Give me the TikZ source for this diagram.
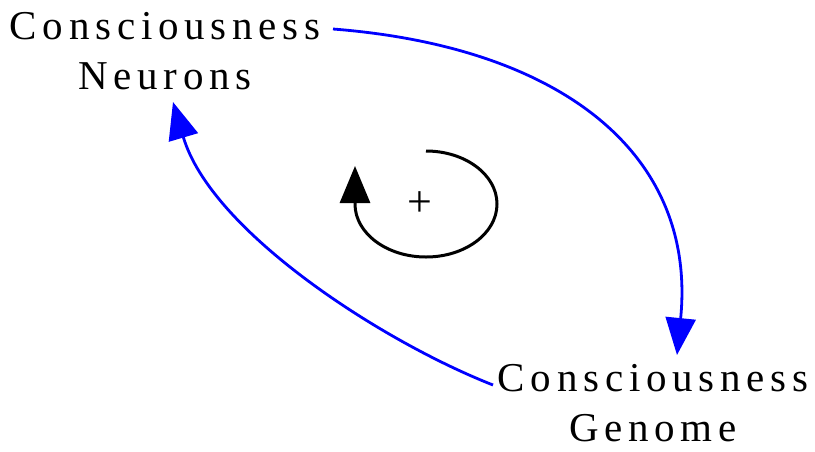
\documentclass[tikz,border=0pt]{standalone}
\usepackage{fontspec}
\setmainfont{Liberation Serif}
\newfontfamily\spacedfont[LetterSpace=14]{Liberation Serif}
\usetikzlibrary{arrows.meta}

\begin{document}
\begin{tikzpicture}[x=0.5pt,y=-0.5pt,>={Triangle[length=18.5pt,width=15pt]},
  var/.style={align=center,inner sep=0pt,font=\spacedfont\fontsize{20.5pt}{25pt}\selectfont},
  link/.style={->,blue,line width=1.4pt},
  loopline/.style={->,black,line width=1.5pt}]
\useasboundingbox (0,0) rectangle (815,451);
\node[var] (neurons) at (165,51) {Consciousness\\Neurons};
\node[var] (genome) at (653,403) {Consciousness\\Genome};
\node[font=\fontsize{22pt}{26pt}\selectfont] (plus) at (420,204) {+};
% link ends
\coordinate (neuronsout) at ([shift={(168,-22)}]neurons.center);
\coordinate (neuronsin) at ([shift={(8,51)}]neurons.center);
\coordinate (genomeout) at ([shift={(-160,-18)}]genome.center);
\coordinate (genomein) at ([shift={(24,-48)}]genome.center);
\coordinate (loopstart) at ([xshift=3pt,yshift=26.5pt]plus.center);
\draw[link] (neuronsout) .. controls +(230,18) and +(20,-200) .. (genomein);
\draw[link] (genomeout) .. controls +(-112,-44) and +(38,129) .. (neuronsin);
% loop polarity
\draw[loopline] (loopstart) arc[start angle=-90,end angle=180,x radius=71,y radius=53] -- ++(0,-38);
\end{tikzpicture}
\end{document}
